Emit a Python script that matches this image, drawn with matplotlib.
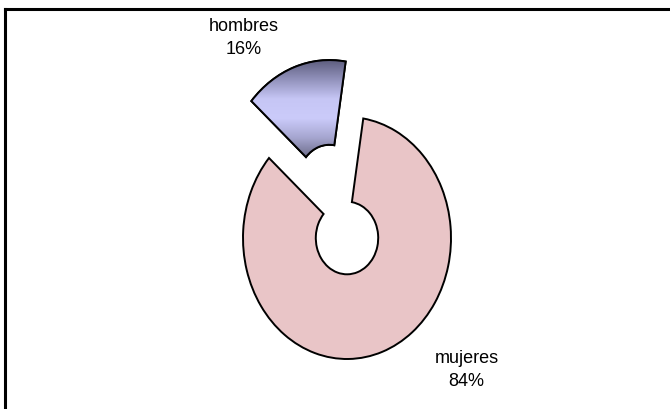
import numpy as np
import matplotlib
matplotlib.use("Agg")
import matplotlib.pyplot as plt
from matplotlib.colors import LinearSegmentedColormap
from matplotlib.patches import PathPatch
from matplotlib.lines import Line2D

# data
categories = ["mujeres", "hombres"]
values = [84, 16]
explode = [0.0, 0.5]
colors = ["#E9C5C7", "#B8B8E6"]

fig = plt.figure(figsize=(6.7, 4.1), dpi=100, facecolor="white")
ax = fig.add_axes([0, 0, 1, 1])

wedges, _ = ax.pie(values, explode=explode, colors=colors, startangle=81,
                   counterclock=False, radius=1.0,
                   wedgeprops=dict(width=0.7, edgecolor="black", linewidth=1.4))

# vertical gradient fill for the hombres wedge
hw = wedges[1]
bb = hw.get_path().get_extents()
grad_cmap = LinearSegmentedColormap.from_list(
    "hgrad", ["#5E5E7E", "#9292BC", "#C6C6F5", "#CBCBFA", "#A6A6D0", "#6E6E8C"])
grad = np.linspace(0, 1, 256).reshape(-1, 1)
img = ax.imshow(grad, cmap=grad_cmap, aspect="auto", origin="upper",
                extent=[bb.x0, bb.x1, bb.y0, bb.y1], zorder=3)
img.set_clip_path(hw)
ax.add_patch(PathPatch(hw.get_path(), fill=False, edgecolor="black",
                       linewidth=1.4, zorder=4))

# labels
pct = [f"{v}%" for v in values]
ax.text(1.15, -1.08, f"{categories[0]}\n{pct[0]}", ha="center", va="center",
        fontsize=13, family="Liberation Sans", linespacing=1.45, zorder=5)
ax.text(-0.99, 1.66, f"{categories[1]}\n{pct[1]}", ha="center", va="center",
        fontsize=13, family="Liberation Sans", linespacing=1.45, zorder=5)

# map the donut to its place in the frame (slightly taller than wide)
cx, cy, rx, ry = 347, 239, 104, 121
ax.set_aspect("auto")
ax.set_xlim(-cx / rx, (670 - cx) / rx)
ax.set_ylim(-(410 - cy) / ry, cy / ry)
ax.axis("off")

# chart border (top and left visible)
fig.add_artist(Line2D([5 / 670, 1.0], [1 - 9.5 / 410, 1 - 9.5 / 410],
                      color="black", linewidth=2.2, transform=fig.transFigure))
fig.add_artist(Line2D([5 / 670, 5 / 670], [0.0, 1 - 9.5 / 410],
                      color="black", linewidth=2.2, transform=fig.transFigure))

plt.savefig("out.png", dpi=100, facecolor="white")
plt.close()
